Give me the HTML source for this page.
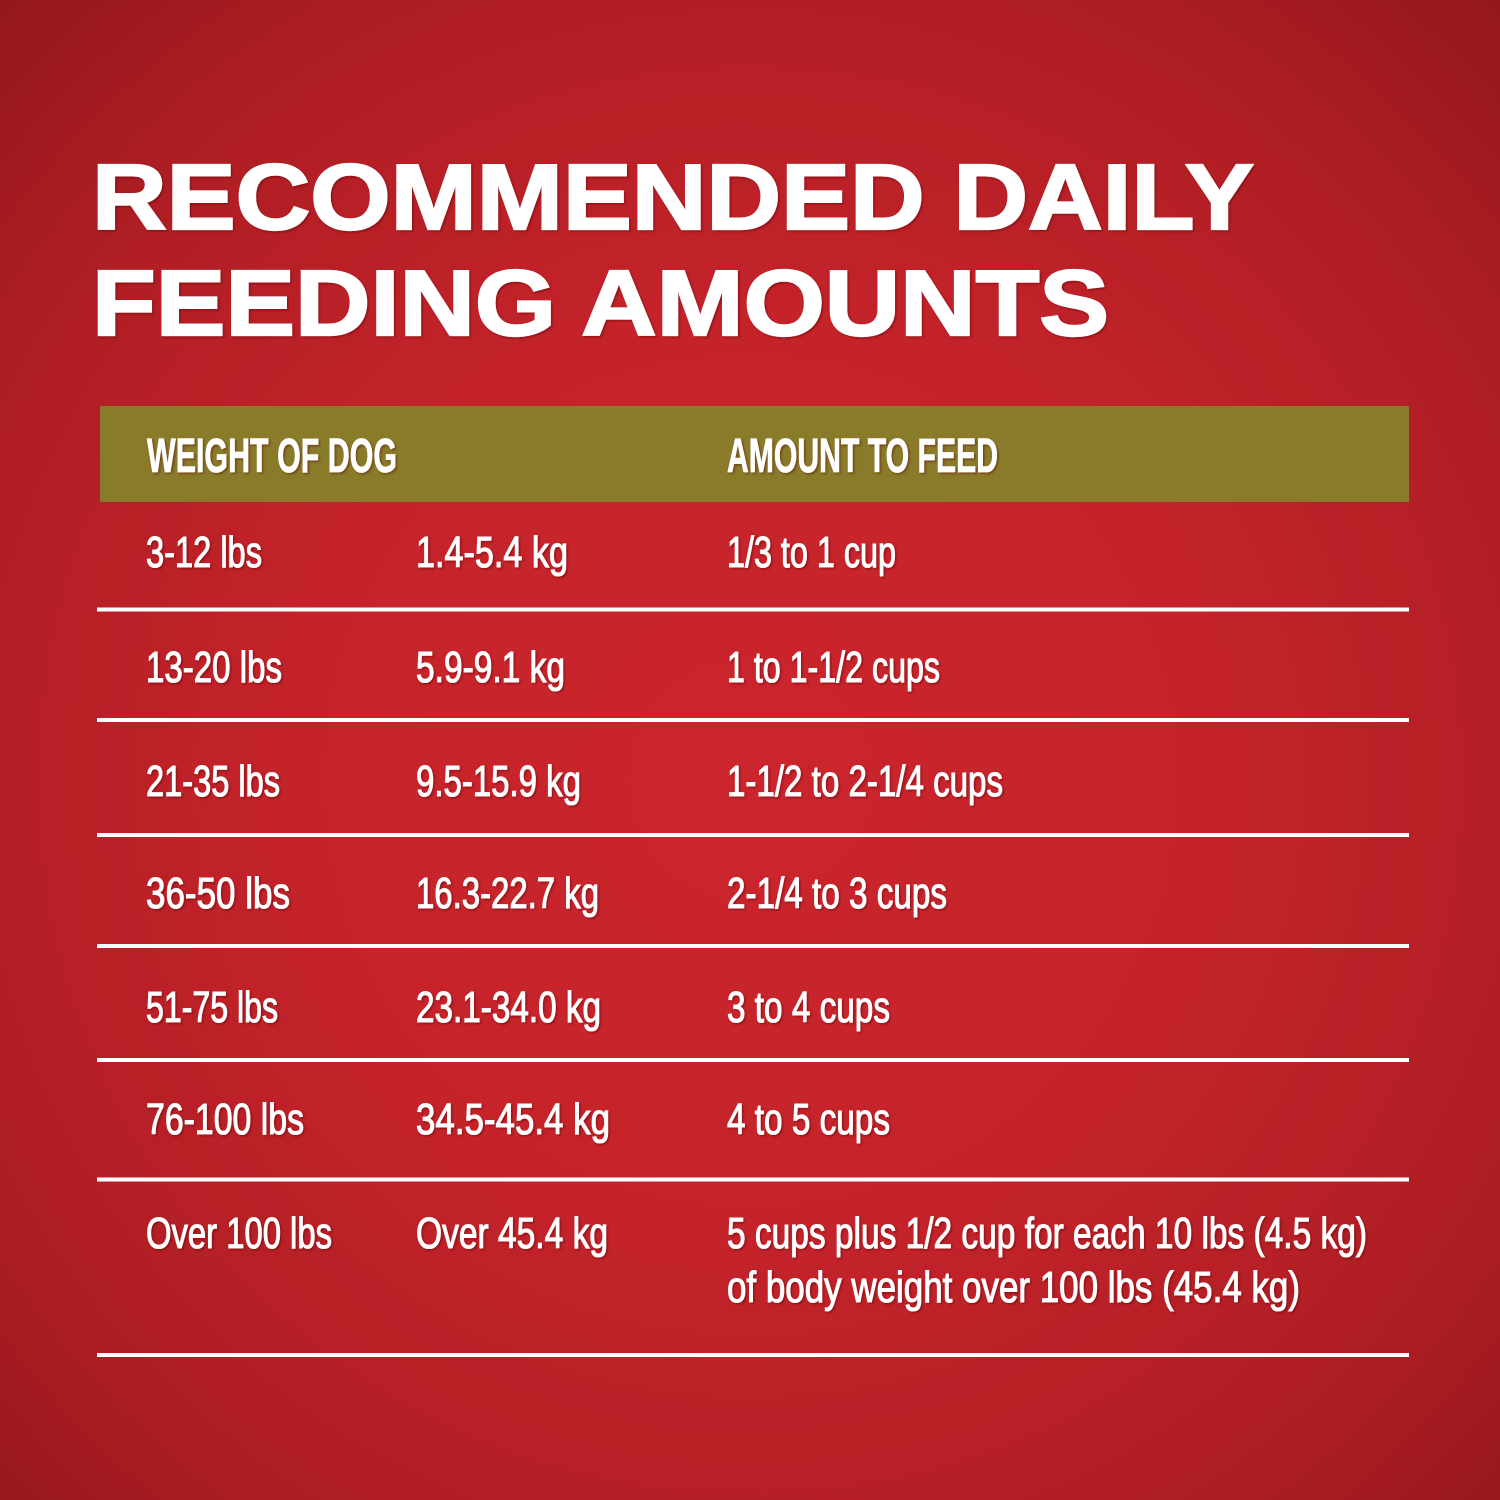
<!DOCTYPE html>
<html>
<head>
<meta charset="utf-8">
<style>
  html, body { margin: 0; padding: 0; }
  body {
    width: 1500px; height: 1500px; overflow: hidden;
    background: radial-gradient(ellipse 75% 75% at 50% 52%, #cb252d 0%, #c5232a 40%, #b01e24 72%, #8f161a 100%);
  }
  svg { display: block; }
  .t { font-family: "Liberation Sans", sans-serif; fill: #fff; }
  .title { font-weight: bold; font-size: 93px; stroke: #fff; stroke-width: 2.2px; }
  .hdr { font-weight: bold; font-size: 48px; stroke: #fff; stroke-width: 0.8px; }
  .row { font-size: 44px; stroke: #fff; stroke-width: 1.1px; }
</style>
</head>
<body>
<svg width="1500" height="1500" viewBox="0 0 1500 1500" xmlns="http://www.w3.org/2000/svg">
  <defs>
    <filter id="sh" x="-5%" y="-20%" width="110%" height="140%">
      <feDropShadow dx="1.5" dy="1.5" stdDeviation="1" flood-color="#5a0a0e" flood-opacity="0.45"/>
    </filter>
  </defs>

  <!-- Title -->
  <g filter="url(#sh)">
    <text class="t title" x="92" y="229" textLength="1162" lengthAdjust="spacingAndGlyphs">RECOMMENDED DAILY</text>
    <text class="t title" x="92" y="335" textLength="1017" lengthAdjust="spacingAndGlyphs">FEEDING AMOUNTS</text>
  </g>

  <!-- Header bar -->
  <rect x="100" y="406" width="1309" height="96" fill="#8a7b2a"/>
  <g filter="url(#sh)">
    <text class="t hdr" x="147" y="472" textLength="250" lengthAdjust="spacingAndGlyphs">WEIGHT OF DOG</text>
    <text class="t hdr" x="727" y="472" textLength="271" lengthAdjust="spacingAndGlyphs">AMOUNT TO FEED</text>
  </g>

  <!-- Separator lines -->
  <g fill="#ffffff">
    <rect x="97" y="607.5" width="1312" height="4"/>
    <rect x="97" y="718" width="1312" height="4"/>
    <rect x="97" y="833" width="1312" height="4"/>
    <rect x="97" y="944" width="1312" height="4"/>
    <rect x="97" y="1058" width="1312" height="4"/>
    <rect x="97" y="1177.5" width="1312" height="4"/>
    <rect x="97" y="1353" width="1312" height="4"/>
  </g>

  <!-- Rows -->
  <g filter="url(#sh)">
    <text class="t row" x="146" y="567" textLength="116" lengthAdjust="spacingAndGlyphs">3-12 lbs</text>
    <text class="t row" x="416" y="567" textLength="152" lengthAdjust="spacingAndGlyphs">1.4-5.4 kg</text>
    <text class="t row" x="727" y="567" textLength="169" lengthAdjust="spacingAndGlyphs">1/3 to 1 cup</text>

    <text class="t row" x="146" y="682" textLength="136" lengthAdjust="spacingAndGlyphs">13-20 lbs</text>
    <text class="t row" x="416" y="682" textLength="149" lengthAdjust="spacingAndGlyphs">5.9-9.1 kg</text>
    <text class="t row" x="727" y="682" textLength="213" lengthAdjust="spacingAndGlyphs">1 to 1-1/2 cups</text>

    <text class="t row" x="146" y="796" textLength="134" lengthAdjust="spacingAndGlyphs">21-35 lbs</text>
    <text class="t row" x="416" y="796" textLength="165" lengthAdjust="spacingAndGlyphs">9.5-15.9 kg</text>
    <text class="t row" x="727" y="796" textLength="276" lengthAdjust="spacingAndGlyphs">1-1/2 to 2-1/4 cups</text>

    <text class="t row" x="146" y="908" textLength="144" lengthAdjust="spacingAndGlyphs">36-50 lbs</text>
    <text class="t row" x="416" y="908" textLength="183" lengthAdjust="spacingAndGlyphs">16.3-22.7 kg</text>
    <text class="t row" x="727" y="908" textLength="220" lengthAdjust="spacingAndGlyphs">2-1/4 to 3 cups</text>

    <text class="t row" x="146" y="1022" textLength="132" lengthAdjust="spacingAndGlyphs">51-75 lbs</text>
    <text class="t row" x="416" y="1022" textLength="185" lengthAdjust="spacingAndGlyphs">23.1-34.0 kg</text>
    <text class="t row" x="727" y="1022" textLength="163" lengthAdjust="spacingAndGlyphs">3 to 4 cups</text>

    <text class="t row" x="146" y="1134" textLength="158" lengthAdjust="spacingAndGlyphs">76-100 lbs</text>
    <text class="t row" x="416" y="1134" textLength="194" lengthAdjust="spacingAndGlyphs">34.5-45.4 kg</text>
    <text class="t row" x="727" y="1134" textLength="163" lengthAdjust="spacingAndGlyphs">4 to 5 cups</text>

    <text class="t row" x="146" y="1248" textLength="186" lengthAdjust="spacingAndGlyphs">Over 100 lbs</text>
    <text class="t row" x="416" y="1248" textLength="192" lengthAdjust="spacingAndGlyphs">Over 45.4 kg</text>
    <text class="t row" x="727" y="1248" textLength="640" lengthAdjust="spacingAndGlyphs">5 cups plus 1/2 cup for each 10 lbs (4.5 kg)</text>
    <text class="t row" x="727" y="1302" textLength="573" lengthAdjust="spacingAndGlyphs">of body weight over 100 lbs (45.4 kg)</text>
  </g>
</svg>
</body>
</html>
